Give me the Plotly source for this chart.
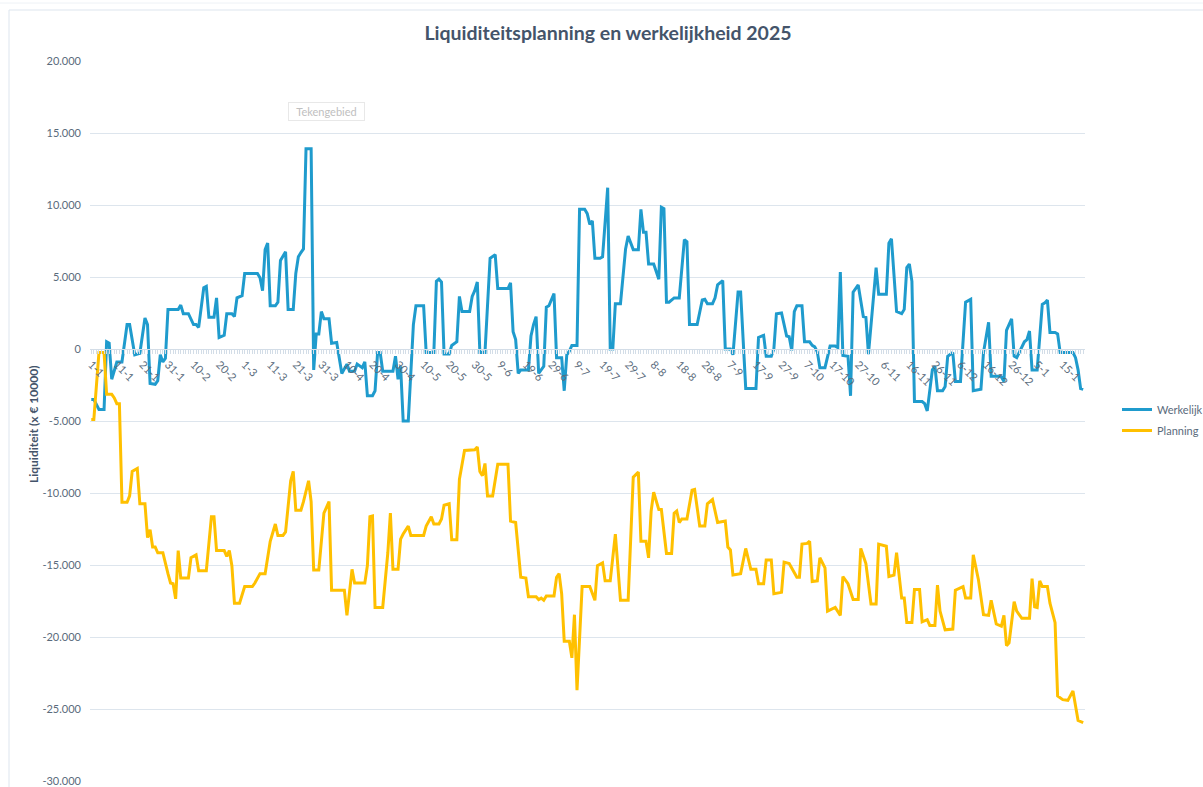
import pandas as pd
import plotly.graph_objects as go

# ---------------- data (values in thousands of the axis unit) ----------------
# the tick labels (20-2 -> 1-3) follow a leap-year calendar
start_date = "2024-01-01"

werkelijk_dagen = [0, 1, 3, 5, 6, 7, 8, 10, 12, 14, 15, 17, 19, 21, 22, 23, 25, 26, 27, 28, 29, 30, 34, 35, 36, 38,
                   40, 41, 42, 44, 45, 46, 48, 49, 50, 52, 53, 55, 56, 57, 59, 60, 65, 66, 67, 68, 69, 70, 72, 73,
                   74, 76, 77, 79, 80, 81, 82, 83, 84, 86, 87, 88, 89, 90, 91, 93, 94, 96, 98, 100, 101, 103, 104,
                   106, 107, 108, 110, 111, 112, 113, 114, 118, 119, 120, 121, 122, 124, 126, 127, 130, 131, 134,
                   135, 136, 137, 138, 140, 141, 143, 144, 145, 148, 149, 150, 151, 152, 154, 156, 158, 159, 163,
                   164, 165, 166, 167, 168, 171, 172, 173, 174, 175, 177, 178, 179, 181, 182, 184, 185, 186, 187,
                   188, 190, 191, 193, 194, 195, 196, 197, 199, 200, 202, 203, 204, 205, 207, 209, 210, 212, 214,
                   215, 216, 217, 218, 220, 222, 223, 224, 225, 226, 228, 230, 232, 233, 234, 237, 239, 240, 241,
                   243, 244, 245, 247, 248, 250, 251, 253, 254, 256, 260, 261, 263, 264, 266, 267, 268, 270, 272,
                   273, 274, 275, 276, 278, 279, 281, 282, 283, 284, 285, 287, 288, 289, 291, 292, 293, 294, 296,
                   297, 298, 300, 302, 303, 304, 306, 307, 308, 311, 312, 313, 315, 317, 318, 319, 320, 321, 322,
                   325, 326, 327, 329, 330, 331, 333, 334, 335, 337, 338, 340, 342, 344, 345, 348, 349, 351, 352,
                   355, 356, 357, 358, 360, 361, 362, 363, 365, 366, 367, 368, 370, 372, 373, 374, 375, 377, 378,
                   379, 384, 385, 386, 387, 388]
werkelijk_k = [-3.5, -3.5, -4.2, -4.2, 0.5, 0.4, -2.1, -0.9, -0.9, 1.7, 1.7, -0.4, -0.3, 2.15, 1.7, -2.4, -2.45,
               -2.2, -0.4, -0.9, -0.65, 2.75, 2.75, 3.05, 2.45, 2.45,
               1.7, 1.7, 1.5, 4.25, 4.35, 2.2, 2.2, 3.55, 0.8, 0.95, 2.45, 2.45, 2.25, 3.55, 3.7, 5.25, 5.25, 4.95,
               4.05, 6.9, 7.35, 3.0, 3.0, 3.25,
               6.15, 6.75, 2.75, 2.75, 5.25, 6.4, 6.7, 6.95, 13.9, 13.9, -1.45, 1.05, 1.05, 2.6, 2.1, 2.1, 0.4,
               0.45, -1.7, -1.05, -1.55, -1.55, -1.05,
               -1.3, -0.9, -3.25, -3.25, -2.9, -0.25, -0.25, -1.55, -1.55, -0.5, -2.1, -1.2, -5.0, -5.0, 1.7, 3.0,
               3.0, -0.25, -0.25,
               4.7, 4.85, 4.65, -0.35, -0.35, 0.25, 0.5, 3.65, 2.6, 2.6, 3.65, 4.05, 4.65, -0.25, -0.25, 6.3,
               6.55, 4.2, 4.2,
               4.6, 1.2, 0.65, -1.7, -1.45, -1.45, 0.9, 1.7, 2.25, -1.7, -1.2, 2.9, 3.0, 3.85, -0.6, -0.6, -2.9,
               -0.4, -0.15,
               0.25, 0.25, 9.7, 9.7, 9.4, 8.65, 8.9, 6.3, 6.3, 6.4, 11.2, 0.0, 0.0, 3.15, 3.15, 6.95, 7.85, 6.9,
               6.9,
               9.7, 8.1, 8.1, 5.9, 5.9, 4.85, 9.85, 9.75, 3.25, 3.25, 3.55, 3.55, 7.6, 7.45, 1.7, 1.7, 3.4, 3.45,
               3.15,
               3.15, 3.55, 4.45, 4.75, 0.0, 0.0, -0.4, 3.95, 3.95, -2.75, -2.75, 0.8, 0.95, -0.5, -0.5, 0.0, 2.45,
               2.5, 0.9,
               0.85, -0.1, 2.6, 3.0, 3.0, 0.5, 0.5, 0.25, 0.15, -0.2, -1.3, -1.3, -0.65, 0.2, 0.2, 0.1, 5.35,
               -0.45, -0.5,
               -3.25, 3.95, 4.45, 2.25, 2.2, -0.35, 3.55, 5.65, 3.8, 3.8, 7.35, 7.65, 2.6, 2.45, 2.75, 5.65, 5.9,
               4.7, -3.65,
               -3.65, -3.8, -4.3, -1.45, -1.2, -2.9, -2.9, -2.6, -0.5, -0.25, -2.25, -2.25, 3.25, 3.45, -2.9, -2.8,
               -0.25, 1.85, -1.9,
               -1.9, -1.95, -2.25, 1.3, 2.1, -0.5, -0.6, -0.25, 0.5, 0.65, 1.25, -1.45, -1.45, 3.1, 3.2, 3.4,
               1.15, 1.15, 1.05,
               -0.25, -0.25, -0.6, -1.45, -2.75, -2.8]

planning_dagen = [0, 1, 3, 5, 6, 8, 9, 10, 11, 12, 14, 15, 16, 18, 19, 21, 22, 23, 24, 25, 26, 28, 30, 31, 32, 33,
                  34, 35, 38, 39, 41, 42, 45, 47, 48, 49, 52, 53, 54, 55, 56, 58, 60, 63, 64, 66, 68, 70, 72, 73,
                  75, 76, 78, 79, 80, 82, 83, 85, 86, 87, 89, 91, 93, 94, 99, 100, 102, 103, 107, 108, 109, 110,
                  111, 114, 116, 117, 118, 120, 121, 122, 124, 125, 130, 131, 133, 134, 136, 137, 138, 140, 141,
                  143, 144, 146, 150, 151, 152, 153, 154, 155, 157, 159, 163, 164, 166, 168, 170, 171, 174, 175,
                  176, 177, 178, 181, 182, 183, 184, 185, 187, 188, 189, 190, 192, 195, 197, 198, 200, 201, 203,
                  205, 207, 210, 212, 214, 215, 217, 218, 219, 220, 222, 223, 225, 227, 228, 229, 230, 231, 233,
                  235, 236, 238, 240, 241, 243, 245, 248, 249, 250, 251, 254, 256, 258, 260, 261, 263, 264, 266,
                  267, 270, 271, 273, 276, 277, 278, 280, 281, 282, 284, 285, 287, 288, 291, 293, 294, 296, 298,
                  300, 301, 303, 305, 307, 308, 311, 312, 314, 315, 317, 318, 319, 321, 322, 324, 325, 327, 328,
                  330, 331, 332, 334, 337, 338, 341, 342, 344, 345, 347, 349, 351, 352, 354, 356, 357, 358, 359,
                  361, 362, 364, 367, 368, 369, 370, 371, 372, 374, 375, 377, 378, 380, 382, 384, 386, 388]
planning_k = [-4.9, -4.9, -0.25, -0.25, -3.15, -3.15, -3.4, -3.8, -3.8, -10.65, -10.65, -10.2, -8.5, -8.3, -10.75,
              -10.75, -13.1, -12.55, -13.75, -13.75, -14.15, -14.15, -15.6, -16.25, -16.3, -17.35,
              -14.0, -15.9, -15.9, -14.5, -14.3, -15.4, -15.4, -11.65, -11.65, -14.0, -14.0, -14.4, -14.0, -15.05,
              -17.65, -17.65, -16.5, -16.5, -16.25, -15.6, -15.6, -13.35, -12.15, -12.95,
              -12.95, -12.7, -9.15, -8.5, -11.2, -11.2, -10.6, -9.15, -10.6, -15.35, -15.35, -11.4, -10.6, -16.75,
              -16.75, -18.5, -15.3, -16.25, -16.25, -15.05, -11.65, -11.6,
              -17.95, -17.95, -14.15, -11.4, -15.3, -15.3, -13.2, -12.85, -12.3, -12.95, -12.95, -12.3, -11.65,
              -12.15, -12.15, -11.8, -10.85, -10.75, -13.25,
              -13.25, -9.05, -7.05, -7.0, -6.8, -8.5, -8.8, -7.95, -10.2, -10.2, -8.0, -8.0, -11.95, -12.05,
              -15.85, -15.9, -17.2, -17.2, -17.4,
              -17.3, -17.45, -17.15, -17.15, -15.85, -15.6, -17.0, -20.3, -20.3, -21.45, -18.45, -23.7, -16.5,
              -16.5, -17.45, -15.05, -14.85, -16.1, -16.1,
              -12.85, -17.45, -17.45, -8.9, -8.55, -13.35, -13.35, -14.5, -11.25, -9.95, -11.15, -11.15, -14.2,
              -14.2, -11.4, -11.25, -12.05, -11.8, -11.8,
              -9.8, -9.75, -12.3, -12.3, -10.75, -10.45, -12.05, -11.95, -13.75, -13.95, -15.7, -15.6, -13.85,
              -15.3, -15.3, -16.3, -16.3, -14.65, -14.65,
              -17.0, -16.9, -14.8, -14.9, -15.85, -15.85, -13.55, -13.5, -13.35, -16.15, -16.1, -14.5, -15.2,
              -18.2, -17.95, -18.5, -15.8, -16.3, -17.4,
              -17.4, -13.85, -14.9, -17.7, -17.7, -13.55, -13.7, -15.8, -15.7, -14.15, -17.3, -17.3, -19.0, -19.0,
              -16.7, -16.7, -18.95, -18.8, -19.2,
              -19.2, -16.4, -18.2, -19.5, -19.45, -16.75, -16.5, -17.3, -17.3, -14.3, -16.0, -18.45, -18.5,
              -17.45, -19.1, -19.25, -18.5, -20.6, -20.4,
              -17.55, -18.2, -18.7, -18.7, -15.95, -17.9, -17.95, -16.1, -16.5, -16.5, -17.65, -19.0, -24.1,
              -24.35, -24.4, -23.75, -25.8, -25.95]

y_tickvals = [20000, 15000, 10000, 5000, 0, -5000, -10000, -15000, -20000, -25000, -30000]
y_ticktext = ["20.000", "15.000", "10.000", "5.000", "0", "-5.000", "-10.000", "-15.000", "-20.000",
              "-25.000", "-30.000"]

title_text = "Liquiditeitsplanning en werkelijkheid 2025"
y_title = "Liquiditeit (x € 10000)"
series_names = ["Werkelijk", "Planning"]

# ---------------- build ----------------
t0 = pd.Timestamp(start_date)
x_w = t0 + pd.to_timedelta(werkelijk_dagen, unit="D")
x_p = t0 + pd.to_timedelta(planning_dagen, unit="D")
y_w = [v * 1000 for v in werkelijk_k]
y_p = [v * 1000 for v in planning_k]

BLUE = "#1f9bcd"
GOLD = "#ffc000"
TXT = "#5a6b7c"
GRID = "#dde5ed"
FONT = "Lato, 'Open Sans', sans-serif"

fig = go.Figure()
fig.add_trace(go.Scatter(x=x_w, y=y_w, mode="lines", name=series_names[0], legendgroup="w",
                         line=dict(color=BLUE, width=3)))
fig.add_trace(go.Scatter(x=x_p, y=y_p, mode="lines", name=series_names[1], legendgroup="p",
                         line=dict(color=GOLD, width=3)))

W, H = 1203, 787
L, R, T, B = 90, 1085, 61, 781


def px_x(px):
    return (px - L) / (R - L)


def px_y(py):
    return (B - py) / (B - T)


x_start = t0 - pd.Timedelta(hours=12)
x_end = t0 + pd.Timedelta(days=388, hours=17)

fig.update_layout(
    width=W, height=H,
    margin=dict(l=L, r=W - R, t=T, b=H - B, pad=0, autoexpand=False),
    paper_bgcolor="white", plot_bgcolor="white",
    font=dict(family=FONT, color=TXT, size=11),
    title=dict(text=f"<b>{title_text}</b>", x=608 / W, xref="container", xanchor="center",
               y=1 - 33 / H, yref="container", yanchor="middle",
               font=dict(size=19.5, color="#44546a", family=FONT)),
    showlegend=True,
    legend=dict(x=px_x(1117), y=px_y(395), xanchor="left", yanchor="top", traceorder="grouped",
                font=dict(size=11, color=TXT, family=FONT), itemwidth=30, bgcolor="rgba(0,0,0,0)",
                tracegroupgap=2),
    xaxis=dict(type="date", range=[x_start, x_end], anchor="free", position=px_y(349),
               automargin=False,
               showgrid=False, zeroline=False, showline=True, linecolor="#d3dde7", linewidth=1,
               tick0=start_date, dtick=10 * 86400000, tickformat="%-d-%-m", tickangle=45,
               ticks="outside", ticklen=4, tickcolor="#d3dde7",
               minor=dict(dtick=86400000, ticks="outside", ticklen=4, tickcolor="#d3dde7", showgrid=False),
               tickfont=dict(size=11, color=TXT, family=FONT)),
    yaxis=dict(range=[-30000, 20000], tickvals=y_tickvals, ticktext=y_ticktext, automargin=False,
               showgrid=True, gridcolor=GRID, gridwidth=1, zeroline=False, showline=False,
               ticks="", ticklabelstandoff=8, tickfont=dict(size=11, color=TXT, family=FONT)),
    annotations=[
        dict(text=f"<b>{y_title}</b>", x=px_x(33), y=px_y(425), xref="paper", yref="paper",
             textangle=-90, showarrow=False, font=dict(size=12, color="#44546a", family=FONT),
             xanchor="center", yanchor="middle"),
        dict(text="&nbsp;&nbsp;Tekengebied&nbsp;&nbsp;", x=px_x(326), y=px_y(112), xref="paper", yref="paper",
             showarrow=False, font=dict(size=11, color="#c0c0c0", family=FONT),
             bgcolor="white", bordercolor="#e8e8e8", borderwidth=1, borderpad=2,
             xanchor="center", yanchor="middle"),
    ],
    shapes=[
        dict(type="line", xref="paper", yref="paper", x0=px_x(9), x1=px_x(1203), y0=px_y(10), y1=px_y(10),
             line=dict(color="#dde5ee", width=1)),
        dict(type="line", xref="paper", yref="paper", x0=px_x(9), x1=px_x(9), y0=px_y(10), y1=px_y(787),
             line=dict(color="#dde5ee", width=1)),
        dict(type="line", xref="paper", yref="paper", x0=px_x(0), x1=px_x(1203), y0=px_y(3), y1=px_y(3),
             line=dict(color="#eef2f6", width=1)),
    ],
)

fig.write_html("out.html", config={"displayModeBar": False},
               post_script="document.body.style.margin='0px';document.body.style.overflow='hidden';")
